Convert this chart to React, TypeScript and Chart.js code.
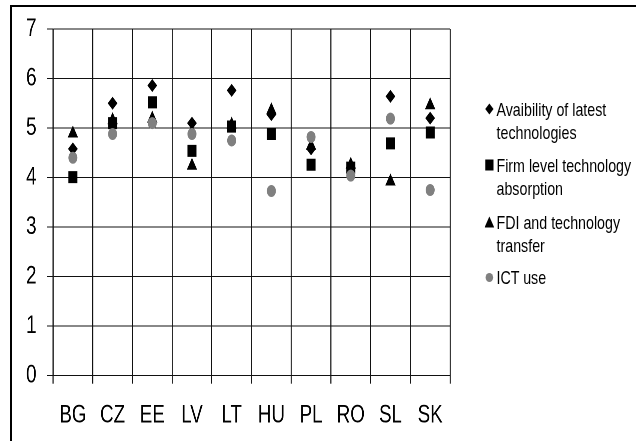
import React, { useEffect, useRef } from 'react';
import { Chart, registerables } from 'chart.js';

Chart.register(...registerables);

// ---- data ----
const categories = ['BG', 'CZ', 'EE', 'LV', 'LT', 'HU', 'PL', 'RO', 'SL', 'SK'];
const availability = [4.58, 5.5, 5.86, 5.1, 5.76, 5.27, 4.58, 4.2, 5.64, 5.2];
const firmLevel = [4.01, 5.1, 5.52, 4.54, 5.03, 4.88, 4.26, 4.2, 4.69, 4.91];
const fdiTransfer = [4.89, 5.16, 5.19, 4.24, 5.07, 5.36, 4.64, 4.26, 3.92, 5.46];
const ictUse = [4.4, 4.88, 5.1, 4.88, 4.75, 3.73, 4.82, 4.04, 5.19, 3.75];
const seriesNames = [
  'Avaibility of latest technologies',
  'Firm level technology absorption',
  'FDI and technology transfer',
  'ICT use',
];
const legendLines = [
  ['Avaibility of latest', 'technologies'],
  ['Firm level technology', 'absorption'],
  ['FDI and technology', 'transfer'],
  ['ICT use'],
];
const yMin = 0;
const yMax = 7;
const yStep = 1;

// ---- layout (chart coordinates, later compressed horizontally) ----
const SX = 0.75;
const W = 636 / SX;
const H = 441;
const FONT = "'Liberation Sans', Arial, sans-serif";

const legendCenters = [109, 165, 222, 277];

function Marker({ kind }: { kind: string }) {
  const w = 13;
  const h = 12;
  let shape: React.ReactNode = null;
  if (kind === 'diamond') shape = <polygon points="6.5,0.5 12,6 6.5,11.5 1,6" fill="#000" />;
  if (kind === 'square') shape = <rect x="1" y="0.5" width="11" height="11" fill="#000" />;
  if (kind === 'triangle') shape = <polygon points="6.5,0.5 13,11.5 0,11.5" fill="#000" />;
  if (kind === 'circle') shape = <ellipse cx="6.5" cy="6.5" rx="5" ry="4.6" fill="#808080" />;
  return (
    <svg width={w} height={h} style={{ position: 'absolute', left: 0, top: 0 }}>
      {shape}
    </svg>
  );
}

const markerKinds = ['diamond', 'square', 'triangle', 'circle'];

export default function App() {
  const ref = useRef<HTMLCanvasElement>(null);

  useEffect(() => {
    if (!ref.current) return;
    const chart = new Chart(ref.current, {
      type: 'line',
      data: {
        labels: categories,
        datasets: [
          {
            label: seriesNames[0],
            data: availability,
            showLine: false,
            pointStyle: 'rectRot',
            pointRadius: 6.5,
            pointHoverRadius: 6.5,
            backgroundColor: '#000',
            borderColor: '#000',
            pointBorderWidth: 0,
            order: 4,
          },
          {
            label: seriesNames[1],
            data: firmLevel,
            showLine: false,
            pointStyle: 'rect',
            pointRadius: 8.5,
            pointHoverRadius: 8.5,
            backgroundColor: '#000',
            borderColor: '#000',
            pointBorderWidth: 0,
            order: 3,
          },
          {
            label: seriesNames[2],
            data: fdiTransfer,
            showLine: false,
            pointStyle: 'triangle',
            pointRadius: 8,
            pointHoverRadius: 8,
            backgroundColor: '#000',
            borderColor: '#000',
            pointBorderWidth: 0,
            order: 2,
          },
          {
            label: seriesNames[3],
            data: ictUse,
            showLine: false,
            pointStyle: 'circle',
            pointRadius: 6,
            pointHoverRadius: 6,
            backgroundColor: '#808080',
            borderColor: '#808080',
            pointBorderWidth: 0,
            order: 1,
          },
        ],
      },
      options: {
        animation: false,
        responsive: true,
        maintainAspectRatio: false,
        devicePixelRatio: 2,
        layout: { padding: { left: 0, top: 29, right: W - 600, bottom: 0 } },
        plugins: { legend: { display: false }, tooltip: { enabled: false } },
        events: [],
        scales: {
          x: {
            type: 'category',
            offset: true,
            grid: {
              offset: true,
              color: '#111',
              lineWidth: 1.4,
              drawTicks: true,
              tickLength: 8,
              tickColor: '#111',
            },
            border: { color: '#111', width: 1 },
            ticks: {
              color: '#000',
              font: { family: FONT, size: 25 },
              padding: 17,
              maxRotation: 0,
              autoSkip: false,
            },
            afterFit: (s: any) => {
              s.height = H - 375.7;
            },
          },
          y: {
            min: yMin,
            max: yMax,
            ticks: {
              stepSize: yStep,
              color: '#000',
              font: { family: FONT, size: 25 },
              padding: 14,
            },
            grid: {
              color: '#111',
              lineWidth: 1,
              drawTicks: true,
              tickLength: 8,
              tickColor: '#111',
            },
            border: { color: '#111', width: 1.4 },
            afterFit: (s: any) => {
              s.width = 70.7;
            },
          },
        },
      },
    } as any);
    return () => chart.destroy();
  }, []);

  return (
    <div
      style={{
        position: 'fixed',
        left: 0,
        top: 0,
        width: 636,
        height: 441,
        overflow: 'hidden',
        background: '#fff',
      }}
    >
      <div
        style={{
          position: 'absolute',
          left: 10,
          top: 5,
          width: 700,
          height: 500,
          border: '2px solid #000',
          boxSizing: 'border-box',
        }}
      />
      <div
        style={{
          position: 'absolute',
          left: 0,
          top: 0,
          width: W,
          height: H,
          transform: `scaleX(${SX})`,
          transformOrigin: '0 0',
        }}
      >
        <div style={{ position: 'absolute', left: 0, top: 0, width: W, height: H }}>
          <canvas ref={ref} />
        </div>
        {legendLines.map((lines, i) => (
          <div
            key={i}
            style={{
              position: 'absolute',
              left: 646,
              top: legendCenters[i] - 11.5,
              fontFamily: FONT,
              fontSize: 19,
              lineHeight: '23px',
              color: '#000',
              whiteSpace: 'nowrap',
            }}
          >
            <div style={{ position: 'absolute', left: 0, top: 5.5, width: 13, height: 12 }}>
              <Marker kind={markerKinds[i]} />
            </div>
            <div style={{ marginLeft: 16 }}>
              {lines.map((t, j) => (
                <div key={j}>{t}</div>
              ))}
            </div>
          </div>
        ))}
      </div>
    </div>
  );
}
